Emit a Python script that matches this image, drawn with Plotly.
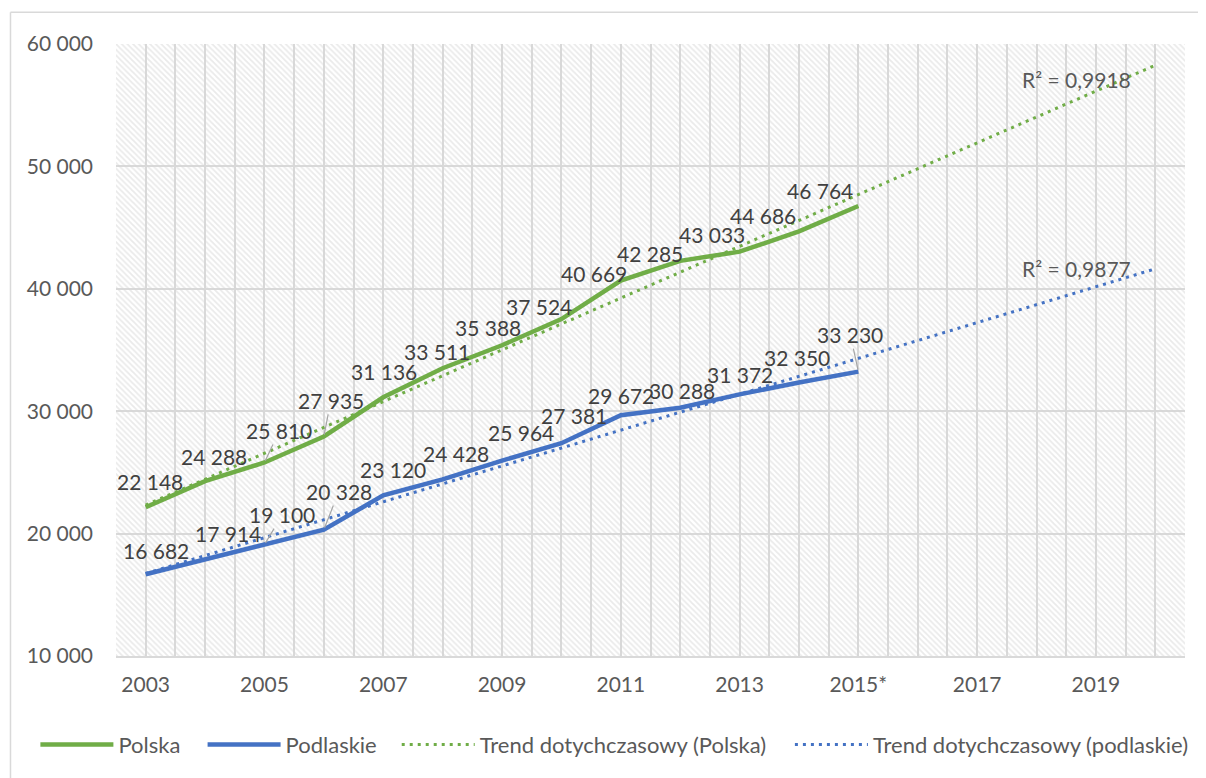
import numpy as np
import plotly.graph_objects as go

# ---------------- data ----------------
years = list(range(2003, 2016))
polska = [22148, 24288, 25810, 27935, 31136, 33511, 35388, 37524, 40669, 42285, 43033, 44686, 46764]
podlaskie = [16682, 17914, 19100, 20328, 23120, 24428, 25964, 27381, 29672, 30288, 31372, 32350, 33230]
trend_years = list(range(2003, 2021))
tick_years = [2003, 2005, 2007, 2009, 2011, 2013, 2015, 2017, 2019]
tick_labels = ["2003", "2005", "2007", "2009", "2011", "2013", "2015*", "2017", "2019"]
series_names = ["Polska", "Podlaskie", "Trend dotychczasowy (Polska)", "Trend dotychczasowy (podlaskie)"]
r2_labels = ["R² = 0,9918", "R² = 0,9877"]

# ---------------- styles ----------------
GREEN = "#70AD47"
BLUE = "#4472C4"
TXT = "#595959"
LBL = "#404040"
GRID = "#D9D9D9"
FONT = "Lato"
X_RANGE = [2002.5, 2020.5]
Y_RANGE = [10000, 60000]
LEG_X = [-0.0754, 0.081, 0.2626, 0.6304]   # legend positions (paper coords)

# label offsets (pixels, text centre relative to point) and leader-line flags
pol_off = [(4, -26), (9, -25), (15, -32), (7, -36), (1, -26), (-6, -17), (-14, -18),
           (-22, -13), (-27, -7), (-30, -7), (-28, -17), (-36, -16), (-38, -16)]
pol_lead = [False, False, True, True] + [False] * 9
pod_off = [(10, -24), (23, -26), (18, -30), (15, -38), (10, -26), (13, -26), (19, -28),
           (13, -28), (0, -20), (2, -17), (0, -20), (-2, -25), (-8, -37)]
pod_lead = [False, False, True, True] + [False] * 8 + [True]
r2_pos = [(2018.67, 57073), (2018.67, 41626)]

fig = go.Figure()

# hatched plot-area background
fig.add_trace(go.Scatter(
    x=[X_RANGE[0], X_RANGE[1], X_RANGE[1], X_RANGE[0], X_RANGE[0]],
    y=[Y_RANGE[0], Y_RANGE[0], Y_RANGE[1], Y_RANGE[1], Y_RANGE[0]],
    mode="lines", fill="toself", line=dict(width=0), fillcolor="rgba(0,0,0,0)",
    fillpattern=dict(shape="\\", fgcolor="#D6D6D6", bgcolor="rgba(0,0,0,0)", size=4, solidity=0.45),
    hoverinfo="skip", showlegend=False))

# main series
fig.add_trace(go.Scatter(x=years, y=polska, mode="lines", name=series_names[0],
                         line=dict(color=GREEN, width=4.5), legend="legend"))
fig.add_trace(go.Scatter(x=years, y=podlaskie, mode="lines", name=series_names[1],
                         line=dict(color=BLUE, width=4.5), legend="legend2"))

# linear trend lines (least squares fit of each series, as in the source chart)
for vals, name, col, leg in [(polska, series_names[2], GREEN, "legend3"),
                             (podlaskie, series_names[3], BLUE, "legend4")]:
    slope, intercept = np.polyfit(years, vals, 1)
    ty = [slope * t + intercept for t in trend_years]
    fig.add_trace(go.Scatter(x=trend_years, y=ty, mode="lines", name=name, legend=leg,
                             line=dict(color=col, width=3, dash="3px,5px")))

def fmt(v):
    return f"{v:,}".replace(",", " ")

annotations = []
for vals, offs, leads in [(polska, pol_off, pol_lead), (podlaskie, pod_off, pod_lead)]:
    for yr, v, (dx, dy), lead in zip(years, vals, offs, leads):
        annotations.append(dict(
            x=yr, y=v, text=fmt(v), showarrow=True, ax=dx, ay=dy,
            arrowhead=0, arrowwidth=1.2, standoff=2,
            arrowcolor="#A6A6A6" if lead else "rgba(0,0,0,0)",
            font=dict(family=FONT, size=21, color=LBL)))
for (px, py), t in zip(r2_pos, r2_labels):
    annotations.append(dict(x=px, y=py, text=t, showarrow=False,
                            font=dict(family=FONT, size=21, color=TXT)))

leg_common = dict(orientation="h", xanchor="left", y=-0.145, yanchor="middle",
                  font=dict(family=FONT, size=22, color=TXT), itemwidth=73,
                  bgcolor="rgba(0,0,0,0)")

fig.update_layout(
    width=1198, height=770,
    margin=dict(l=108, r=16, t=36, b=119),
    paper_bgcolor="white", plot_bgcolor="white",
    separators=", ",
    font=dict(family=FONT, size=21, color=TXT),
    annotations=annotations,
    showlegend=True,
    legend=dict(x=LEG_X[0], **leg_common),
    legend2=dict(x=LEG_X[1], **leg_common),
    legend3=dict(x=LEG_X[2], **leg_common),
    legend4=dict(x=LEG_X[3], **leg_common),
    shapes=[
        dict(type="line", xref="paper", yref="paper", x0=-0.0987, x1=-0.0987,
             y0=-0.25, y1=1.052, line=dict(color=GRID, width=1.5), layer="below"),
        dict(type="line", xref="paper", yref="paper", x0=-0.0987, x1=1.06,
             y0=1.052, y1=1.052, line=dict(color=GRID, width=1.5), layer="below"),
    ],
)

fig.update_xaxes(range=X_RANGE, tickmode="array", tickvals=tick_years, ticktext=tick_labels,
                 showgrid=True, gridcolor=GRID, gridwidth=1.5, zeroline=False,
                 showline=True, linecolor=GRID, linewidth=2, ticks="",
                 ticklabelstandoff=9,
                 tickfont=dict(family=FONT, size=21, color=TXT),
                 minor=dict(tickmode="linear", tick0=2002.5, dtick=0.5, showgrid=True,
                            gridcolor=GRID, gridwidth=1.5, ticks=""))
fig.update_yaxes(range=Y_RANGE, dtick=10000, tickformat=",d", showgrid=True,
                 gridcolor=GRID, gridwidth=1.5, zeroline=False, ticks="",
                 ticklabelstandoff=22,
                 tickfont=dict(family=FONT, size=21, color=TXT))

fig.write_html("out.html")
